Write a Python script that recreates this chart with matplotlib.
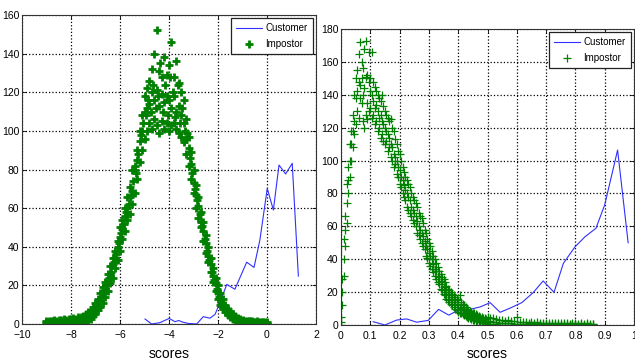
import numpy as np
import matplotlib
matplotlib.use('Agg')
import matplotlib.pyplot as plt

plt.rcParams['font.family'] = ['Liberation Sans', 'DejaVu Sans']

# ---- left panel: scores on log-likelihood scale ----
imp_x_left = np.round(np.arange(-9.0, 0.001, 0.1), 2)
imp_lo_left = [0, 0.2, 0, 0.3, 0, 0.1, 0.4, 0.2, 0.5, 0.3,
               0.4, 0.6, 0.5, 0.9, 1.0, 1.2, 1.5, 2.2, 2.8, 4.0,
               5, 7, 9, 11, 14, 17, 21, 24, 29, 33,
               38, 44, 48, 54, 57, 62, 68, 75, 84, 90,
               96, 100, 104, 101, 106, 103, 99, 105, 101, 104,
               100, 103, 104, 101, 99, 97, 94, 88, 82, 75,
               68, 60, 55, 50, 43, 37, 32, 27, 22, 17,
               13, 10, 8, 6, 4.5, 3.5, 2.5, 1.8, 1.4, 1.0,
               0.8, 0.6, 0.5, 0.4, 0.3, 0.3, 0.2, 0.2, 0.1, 0.1,
               0]
imp_mid_left = [0.8, 0.5, 1.0, 0.6, 1.2, 0.8, 1.1, 1.3, 0.9, 1.4,
                1.5, 1.3, 2.0, 1.8, 2.5, 2.4, 3.5, 3.8, 5.2, 6.0,
                8, 11, 12, 16, 18, 23, 26, 31, 34, 40,
                45, 49, 56, 60, 66, 69, 80, 85, 95, 100,
                110, 112, 114, 120, 116, 121, 113, 119, 115, 118,
                116, 112, 118, 110, 113, 108, 104, 96, 91, 83,
                73, 67, 61, 53, 48, 42, 35, 31, 25, 21,
                16, 14, 10, 8.5, 6, 5, 3.8, 3, 2.4, 1.8,
                1.4, 1.1, 1.0, 0.9, 0.8, 0.7, 0.6, 0.6, 0.5, 0.5,
                0.5]
imp_hi_left = [1.5, 1.8, 1.3, 2.0, 1.6, 2.2, 1.9, 2.4, 2.1, 2.6,
               2.5, 3.0, 2.8, 3.5, 3.8, 4.2, 5.0, 6.2, 7.5, 9,
               11, 13, 16, 19, 22, 26, 30, 34, 38, 43,
               50, 54, 60, 66, 71, 80, 82, 90, 100, 108,
               118, 122, 126, 132, 140, 152, 131, 128, 138, 129,
               134, 146, 128, 136, 125, 120, 116, 106, 97, 89,
               80, 72, 66, 58, 53, 46, 40, 34, 29, 24,
               20, 16, 13, 10, 8, 6.5, 5, 4, 3.2, 2.6,
               2.2, 1.8, 1.6, 1.4, 1.5, 1.2, 1.3, 1.0, 1.1, 0.9,
               1.0]
# second set of bins, half a step offset
imp_x_left_b = np.round(np.arange(-8.95, -0.0, 0.1), 2)
imp_b_left = [1.0, 0.4, 1.6, 0.9, 0.6, 1.5, 0.8, 1.7, 1.2, 2.0,
              1.0, 2.2, 1.6, 2.8, 2.0, 3.2, 3.0, 4.6, 5.8, 7.5,
              9, 12, 14, 17, 20, 24, 27, 32, 36, 42,
              47, 52, 58, 62, 67, 74, 78, 88, 98, 104,
              108, 116, 110, 124, 112, 118, 135, 110, 124, 108,
              128, 120, 107, 124, 104, 112, 100, 99, 86, 78,
              70, 64, 57, 51, 44, 38, 33, 27, 23, 18,
              14, 11, 9, 7, 5.5, 4, 3.2, 2.5, 1.9, 1.5,
              1.2, 0.4, 1.3, 0.6, 1.1, 0.3, 1.0, 0.6, 0.9, 0.4]
cust_x_left = [-4.98, -4.71, -4.37, -3.99, -3.76, -3.6, -3.45, -3.21, -2.87, -2.6,
               -2.33, -2.12, -1.99, -1.64, -1.31, -0.83, -0.53, -0.29, 0.01, 0.26,
               0.49, 0.76, 1.03, 1.28]
cust_y_left = [2.6, 0, 0.7, 2.9, 1.2, 1.8, 1.0, 0.3, 0, 3.8,
               3, 5, 9, 20.5, 18, 32, 29.3, 43.5, 70.2, 59,
               82.3, 77.7, 83.2, 24.8]

# ---- right panel: normalised scores ----
imp_x_right = np.round(np.concatenate([np.arange(0, 0.4999, 0.005),
                                       np.arange(0.5, 0.8601, 0.01)]), 3)
imp_lo_right = [0, 12, 30, 48, 62, 80, 90, 100, 108, 116,
                122, 130, 126, 138, 135, 124, 120, 128, 125, 130,
                132, 126, 128, 122, 124, 118, 120, 114, 116, 112,
                110, 112, 106, 108, 102, 100, 96, 98, 92, 90,
                86, 84, 80, 78, 76, 72, 70, 68, 66, 64,
                62, 60, 56, 55, 52, 50, 48, 46, 42, 41,
                38, 36, 34, 32, 30, 28, 26, 25, 22, 21,
                19, 18, 16, 15, 14, 13, 12, 11, 10, 9,
                8, 7.5, 7, 6.5, 6, 5.5, 5, 4.5, 4, 3.6,
                3.2, 3, 2.6, 2.3, 2, 1.8, 1.6, 1.4, 1.2, 1,
                0.8, 0.6, 0.5, 0.4, 0.3, 0.3, 0.2, 0.2, 0.1, 0.1,
                0, 0.1, 0, 0, 0.1, 0, 0, 0, 0.1, 0,
                0, 0, 0, 0.1, 0, 0, 0, 0, 0, 0.1,
                0, 0, 0, 0, 0, 0, 0]
imp_mid_right = [2, 20, 40, 58, 74, 88, 100, 110, 118, 124,
                 138, 142, 148, 146, 150, 140, 144, 151, 135, 148,
                 142, 140, 136, 132, 134, 130, 126, 128, 124, 122,
                 120, 118, 116, 114, 110, 108, 104, 102, 100, 96,
                 94, 90, 88, 85, 82, 80, 78, 76, 72, 70,
                 68, 66, 63, 60, 58, 56, 54, 51, 48, 46,
                 44, 42, 40, 37, 34, 33, 30, 29, 27, 25,
                 23, 22, 20, 19, 18, 17, 16, 15, 14, 13,
                 12, 11, 10.5, 10, 9, 8.5, 8, 7, 6.5, 6,
                 5.4, 5, 4.6, 4.2, 3.8, 3.4, 3.2, 3, 2.6, 2.4,
                 2, 2.2, 1.8, 1.6, 1.5, 1.3, 1.2, 1, 1.1, 0.9,
                 0.8, 0.9, 0.7, 0.8, 0.6, 0.7, 0.5, 0.6, 0.5, 0.6,
                 0.4, 0.5, 0.5, 0.4, 0.5, 0.3, 0.4, 0.5, 0.3, 0.4,
                 0.4, 0.3, 0.4, 0.3, 0.5, 0.3, 0.4]
imp_hi_right = [5, 28, 52, 66, 86, 96, 110, 118, 128, 140,
                150, 155, 165, 172, 160, 156, 168, 173, 152, 166,
                150, 166, 148, 145, 142, 140, 138, 136, 140, 133,
                130, 128, 126, 124, 125, 120, 118, 113, 110, 106,
                104, 100, 96, 93, 90, 88, 86, 84, 80, 78,
                76, 74, 72, 68, 66, 65, 62, 58, 56, 52,
                50, 48, 45, 42, 40, 38, 35, 33, 31, 29,
                28, 26, 24, 22, 21, 20, 19, 18, 17, 16,
                15, 18, 14, 13, 12, 11, 10, 9, 8.5, 8,
                7.5, 7, 6.5, 6, 5.5, 5, 4.8, 4.4, 4, 3.8,
                5, 4, 4.5, 3.5, 3, 3.2, 2.5, 2.8, 2.2, 2.5,
                5, 2, 1.8, 2, 1.5, 1.8, 1.4, 1.6, 1.3, 1.5,
                1.2, 1.4, 1.1, 1.3, 1.2, 1, 1.2, 1.1, 0.9, 1.1,
                1, 0.9, 1, 0.8, 1, 0.9, 0.8]
cust_x_right = [0.11, 0.15, 0.19, 0.224, 0.258, 0.298, 0.333, 0.368, 0.40, 0.44,
                0.475, 0.509, 0.543, 0.58, 0.617, 0.656, 0.69, 0.727, 0.759, 0.799,
                0.833, 0.87, 0.90, 0.944, 0.98]
cust_y_right = [2.0, 0, 3, 3.7, 1.7, 2.8, 9.5, 6, 9, 9.5,
                11, 13.6, 7.7, 10.5, 13.6, 19.7, 26.8, 19.9, 37.5, 47.6,
                53.7, 58.8, 73, 106.4, 50]

green = (0, 0.5, 0)
blue = '#3030ff'

fig = plt.figure(figsize=(6.35, 3.62), dpi=100)
ax1 = fig.add_axes([22 / 635, 1 - 324 / 362, 294 / 635, 309 / 362])
ax2 = fig.add_axes([341 / 635, 1 - 325 / 362, 293 / 635, 296 / 362])


def style(ax):
    ax.grid(True, color='k', linestyle=':', linewidth=0.9)
    ax.set_axisbelow(True)
    ax.tick_params(direction='in', length=3, width=0.6, top=True, right=True,
                   labelsize=7.5)
    ax.tick_params(axis='y', pad=2)
    ax.tick_params(axis='x', pad=4)
    for s in ax.spines.values():
        s.set_linewidth(0.8)
        s.set_color('#333333')
    ax.set_xlabel('scores', fontsize=10, labelpad=5)
    ax.legend(loc='upper right', fontsize=7, frameon=True, fancybox=False,
              edgecolor='#222222', framealpha=1, borderaxespad=0.35,
              handlelength=2.6, handletextpad=0.4, borderpad=0.5,
              labelspacing=0.6).get_frame().set_linewidth(0.9)


# left
ax1.plot(cust_x_left, cust_y_left, color=blue, lw=0.8, label='Customer')
ax1.plot(imp_x_left, imp_mid_left, '+', color=green, ms=6, mew=2.0, label='Impostor')
ax1.plot(imp_x_left, imp_lo_left, '+', color=green, ms=6, mew=2.0)
ax1.plot(imp_x_left, imp_hi_left, '+', color=green, ms=6, mew=2.0)
ax1.plot(imp_x_left_b, imp_b_left, '+', color=green, ms=6, mew=2.0)
ax1.set_xlim(-10, 2)
ax1.set_ylim(0, 160)
ax1.set_xticks(np.arange(-10, 3, 2))
ax1.set_yticks(np.arange(0, 161, 20))
style(ax1)

# right
ax2.plot(cust_x_right, cust_y_right, color=blue, lw=0.8, label='Customer')
ax2.plot(imp_x_right, imp_lo_right, '+', color=green, ms=6, mew=0.9, label='Impostor')
ax2.plot(imp_x_right, imp_mid_right, '+', color=green, ms=6, mew=0.9)
ax2.plot(imp_x_right, imp_hi_right, '+', color=green, ms=6, mew=0.9)
ax2.set_xlim(0, 1)
ax2.set_ylim(0, 180)
ax2.set_xticks(np.round(np.arange(0, 1.01, 0.1), 1))
ax2.set_xticklabels(['0', '0.1', '0.2', '0.3', '0.4', '0.5', '0.6', '0.7', '0.8', '0.9', '1'])
ax2.set_yticks(np.arange(0, 181, 20))
style(ax2)

fig.savefig('out.png', dpi=100)
